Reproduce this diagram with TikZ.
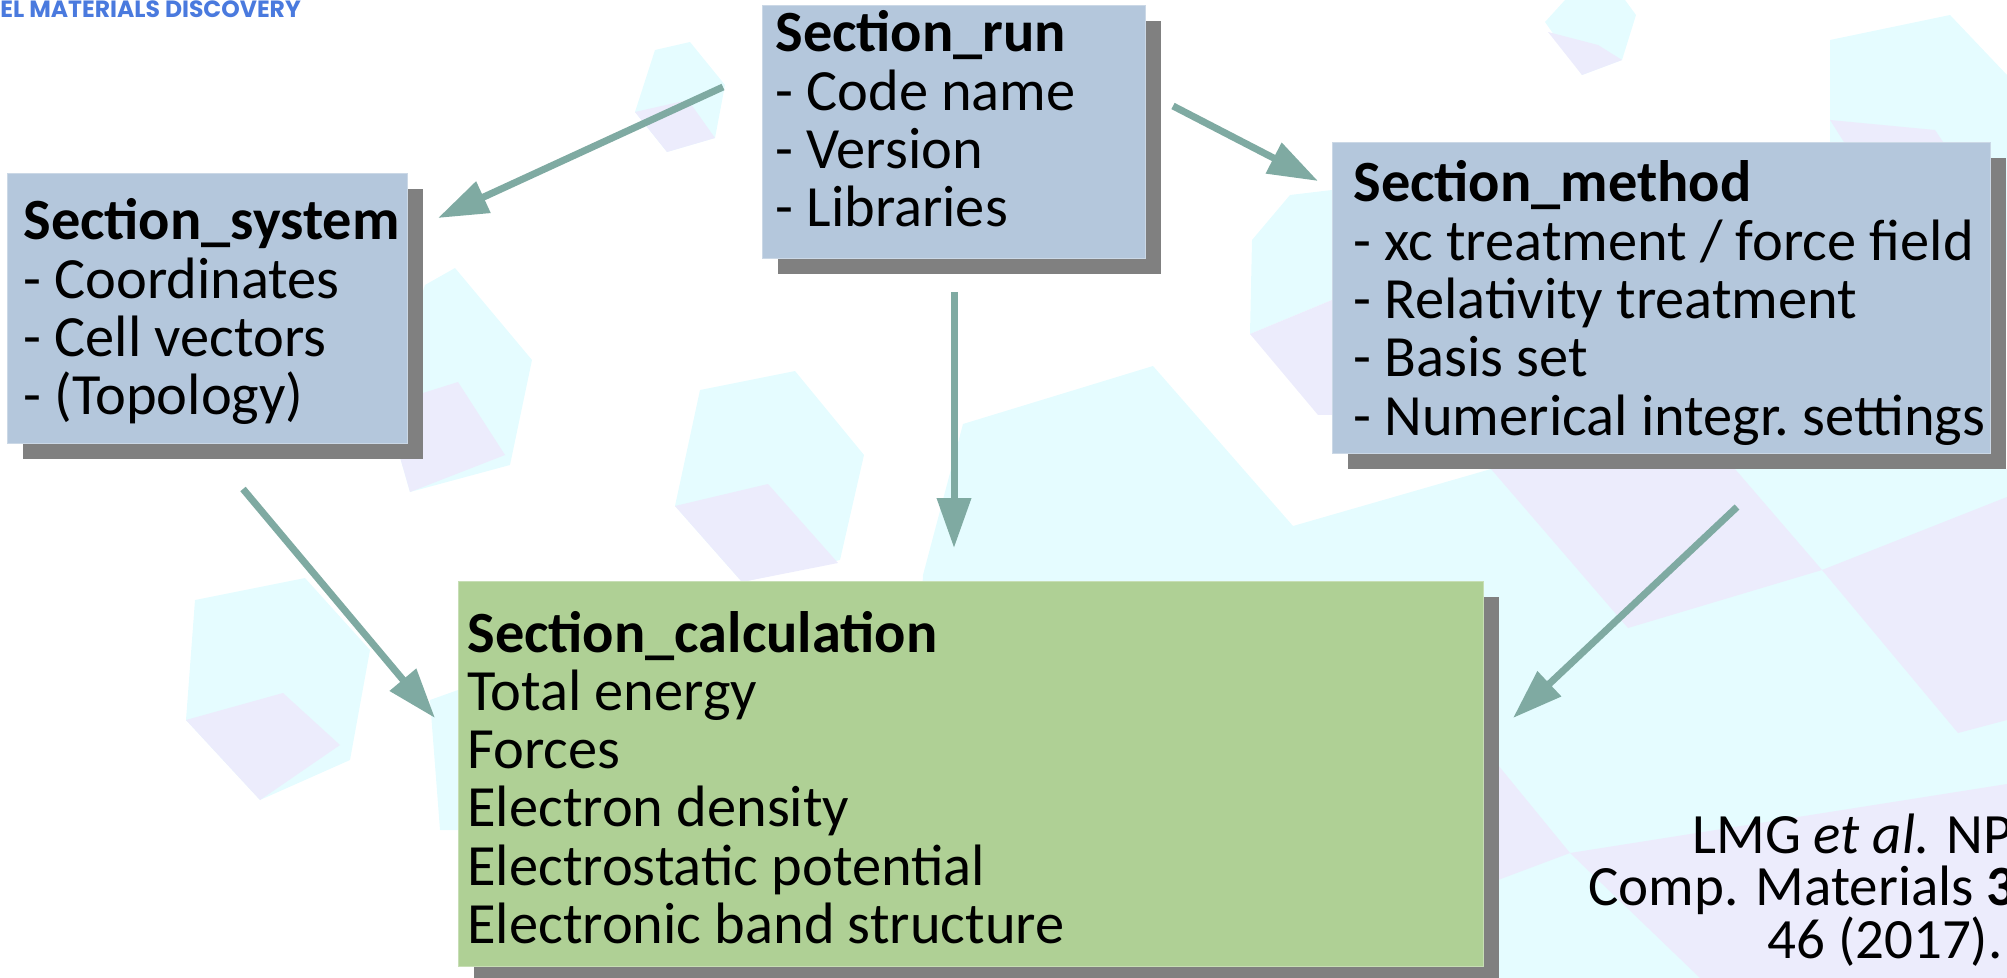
\documentclass[tikz,border=0pt]{standalone}
\usepackage{fontspec}
\setmainfont{Carlito}
\newfontfamily\bannerfont{Poppins}
\usetikzlibrary{arrows.meta,shadows}

\definecolor{boxblue}{RGB}{180,199,220}
\definecolor{boxgreen}{RGB}{175,208,149}
\definecolor{shade}{RGB}{128,128,128}
\definecolor{flow}{RGB}{127,170,162}
\definecolor{cubecyan}{RGB}{229,252,255}
\definecolor{cubelav}{RGB}{236,236,252}
\definecolor{banner}{RGB}{74,122,222}

\tikzset{
  panel/.style={fill=#1, draw=#1!70!white, line width=0.6pt, inner sep=0pt,
    anchor=north west,
    drop shadow={shadow xshift=7.5pt, shadow yshift=-7.5pt, fill=shade, opacity=1}},
  listtext/.style={anchor=base west, inner sep=0pt,
    font=\fontsize{29.2pt}{29.15pt}\selectfont\frenchspacing},
  citetext/.style={anchor=base west, inner sep=0pt,
    font=\fontsize{28.5pt}{33pt}\selectfont},
  flowarrow/.style={draw=flow, line width=3.5pt,
    -{Triangle[length=25pt, width=16.5pt]}},
}

\begin{document}
\begin{tikzpicture}[x=0.5pt, y=-0.5pt]
\useasboundingbox (0,0) rectangle (2007,978);
\begin{scope}
\clip (0,0) rectangle (2007,978);

% pale background cubes
\fill[cubecyan] (655,50) -- (690,42) -- (725,85) -- (715,138) -- (667,152) -- (635,112) -- cycle;
\fill[cubelav] (635,112) -- (688,100) -- (715,138) -- (667,152) -- cycle;

\fill[cubecyan] (1545,22) -- (1565,0) -- (1625,0) -- (1636,15) -- (1622,60) -- (1582,75) -- cycle;
\fill[cubelav] (1548,32) -- (1598,45) -- (1622,60) -- (1582,75) -- cycle;

\fill[cubecyan] (1830,40) -- (1950,15) -- (2007,75) -- (2007,260) -- (1830,260) -- cycle;
\fill[cubelav] (1830,120) -- (1935,130) -- (1975,190) -- (1890,215) -- cycle;

\fill[cubecyan] (425,285) -- (455,268) -- (532,360) -- (510,465) -- (410,492) -- (385,405) -- cycle;
\fill[cubelav] (385,405) -- (458,382) -- (505,455) -- (410,492) -- cycle;

\fill[cubecyan] (1252,240) -- (1290,195) -- (1332,190) -- (1332,300) -- (1250,334) -- cycle;
\fill[cubelav] (1250,334) -- (1332,300) -- (1332,415) -- (1318,415) -- cycle;

\fill[cubecyan] (700,390) -- (795,371) -- (864,455) -- (840,560) -- (742,582) -- (675,506) -- cycle;
\fill[cubelav] (675,506) -- (768,484) -- (838,563) -- (742,582) -- cycle;

\fill[cubecyan] (195,600) -- (305,578) -- (370,650) -- (350,760) -- (260,800) -- (186,720) -- cycle;
\fill[cubelav] (186,720) -- (283,693) -- (340,745) -- (260,800) -- cycle;
\fill[cubecyan] (430,700) -- (458,690) -- (458,830) -- (440,830) -- cycle;

\fill[cubecyan] (923,575) -- (963,424) -- (1153,366) -- (1293,526) -- (1491,469) -- (2007,469)
  -- (2007,978) -- (900,978) -- cycle;
\fill[cubelav] (1491,469) -- (1735,469) -- (1822,570) -- (1628,628) -- cycle;
\fill[cubelav] (1822,570) -- (2007,497) -- (2007,720) -- (1958,733) -- cycle;
\fill[cubelav] (1498,765) -- (1570,853) -- (1498,880) -- cycle;
\fill[cubelav] (1570,853) -- (2007,784) -- (2007,978) -- (1700,978) -- cycle;
\end{scope}

% banner fragment in the corner
\node[anchor=base west, inner sep=0pt, text=banner,
  font=\bannerfont\bfseries\fontsize{11.75pt}{14pt}\selectfont] (banner) at (0,18)
  {EL MATERIALS DISCOVERY};

% section panels
\node[panel=boxblue, minimum width=191.5pt, minimum height=126.5pt] (run) at (762,5) {};
\node[panel=boxblue, minimum width=200pt, minimum height=135pt] (system) at (7,173) {};
\node[panel=boxblue, minimum width=329pt, minimum height=155.5pt] (method) at (1332,142) {};
\node[panel=boxgreen, minimum width=512.5pt, minimum height=192.5pt] (calc) at (458,581) {};

\node[listtext] (runtext) at (775,52) {\vtop{%
  \hbox{\bfseries Section\_run}
  \hbox{- Code name}
  \hbox{- Version}
  \hbox{- Libraries}}};

\node[listtext] (systemtext) at (23,240) {\vtop{%
  \hbox{\bfseries Section\_system}
  \hbox{- Coordinates}
  \hbox{- Cell vectors}
  \hbox{- (Topology)}}};

\node[listtext] (methodtext) at (1353,202) {\vtop{%
  \hbox{\bfseries Section\_method}
  \hbox{- xc treatment / force field}
  \hbox{- Relativity treatment}
  \hbox{- Basis set}
  \hbox{- Numerical integr. settings}}};

\node[listtext] (calctext) at (467,652) {\vtop{%
  \hbox{\bfseries Section\_calculation}
  \hbox{Total energy}
  \hbox{Forces}
  \hbox{Electron density}
  \hbox{Electrostatic potential}
  \hbox{Electronic band structure}}};

% reference note, running off the right edge
\begin{scope}
\clip (0,0) rectangle (2007,978);
\node[citetext] (cite1) at (1692,853) {LMG \textit{et al.} NP};
\node[citetext] (cite2) at (1588,905) {Comp. Materials \textbf{3}};
\node[citetext] (cite3) at (1767,958) {46 (2017).};
\end{scope}

% connectors
\coordinate (runL) at (723,87);
\coordinate (sysIn) at (438,218);
\coordinate (runR) at (1173,106);
\coordinate (methIn) at (1318,181);
\coordinate (runB) at (954,292);
\coordinate (calcTop) at (954,548);
\coordinate (sysB) at (243,489);
\coordinate (calcL) at (435,718);
\coordinate (methB) at (1737,507);
\coordinate (calcR) at (1513,718);

\draw[flowarrow] (runL) -- (sysIn);
\draw[flowarrow] (runR) -- (methIn);
\draw[flowarrow] (runB) -- (calcTop);
\draw[flowarrow] (sysB) -- (calcL);
\draw[flowarrow] (methB) -- (calcR);
\end{tikzpicture}
\end{document}
